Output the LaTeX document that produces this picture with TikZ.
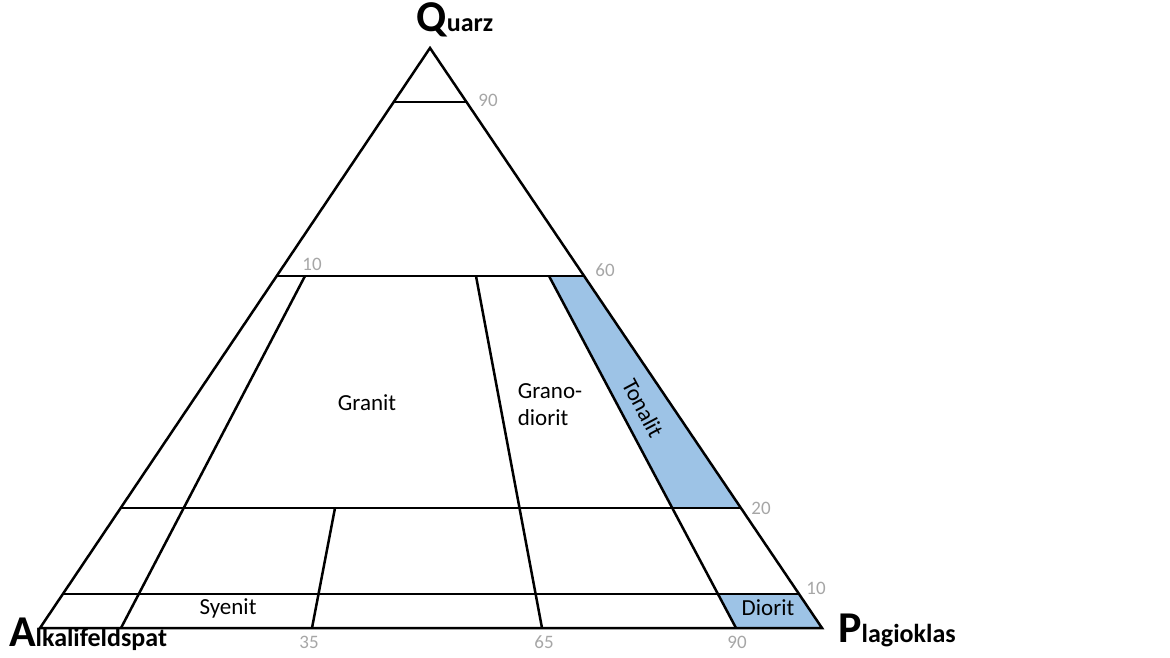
\documentclass[tikz,border=0pt]{standalone}
\usepackage{fontspec}
\setmainfont{Carlito}
\usetikzlibrary{positioning}
\begin{document}
\begin{tikzpicture}[x=1pt,y=-1pt]
  \definecolor{fieldblue}{HTML}{9DC3E6}
  \definecolor{ticgray}{HTML}{A6A6A6}
  \tikzstyle{rim}   = [line width=2.5pt, line join=miter]
  \tikzstyle{field} = [font=\fontsize{23}{27}\selectfont]
  \tikzstyle{tick}  = [font=\fontsize{19}{22}\selectfont, text=ticgray]
  \newcommand{\corner}[2]{\fontsize{44}{48}\selectfont\bfseries #1\fontsize{26}{30}\selectfont #2}
  \useasboundingbox (0,0) rectangle (1170,658);
  % corners of the triangle
  \coordinate (alk) at (40,628);
  \coordinate (pla) at (822,628);
  \coordinate (qua) at (430,48);
  % blue fields
  \fill [fieldblue] (549,276) -- (584,276) -- (741,508) -- (672,508) -- cycle;
  \fill [fieldblue] (718,594) -- (799,594) -- (822,628) -- (736,628) -- cycle;
  % field borders
  \draw [rim] (394,102) -- (466,102);
  \draw [rim] (277,276) -- (584,276);
  \draw [rim] (121,508) -- (741,508);
  \draw [rim] (63,594) -- (799,594);
  \draw [rim] (305,276) -- (121,628);
  \draw [rim] (476,276) -- (542,628);
  \draw [rim] (549,276) -- (736,628);
  \draw [rim] (335,508) -- (312,628);
  \draw [rim] (alk) -- (qua) -- (pla) -- cycle;
  % field names
  \node [field] (granit)  at (367,403) {Granit};
  \node [field, align=left] (grano) at (550,405) {Grano-\\diorit};
  \node [field, rotate=-62, inner sep=0pt] (tonalit) at (643,408) {Tonalit};
  \node [field] (syenit)  at (228,608) {Syenit};
  \node [field] (diorit)  at (768,608) {Diorit};
  % scale values
  \node [tick] (q90) at (488,100) {90};
  \node [tick] (q10) at (312,264) {10};
  \node [tick] (q60) at (605,270) {60};
  \node [tick] (q20) at (761,508) {20};
  \node [tick] (p10) at (816,588) {10};
  \node [tick] (a35) at (309,642) {35};
  \node [tick] (a65) at (544,642) {65};
  \node [tick] (a90) at (737,642) {90};
  % end members
  \node (quarz)  at (455,20)  {\corner{Q}{uarz}};
  \node (alkali) at (88,634)  {\corner{A}{lkalifeldspat}};
  \node (plagio) at (897,630) {\corner{P}{lagioklas}};
\end{tikzpicture}
\end{document}
